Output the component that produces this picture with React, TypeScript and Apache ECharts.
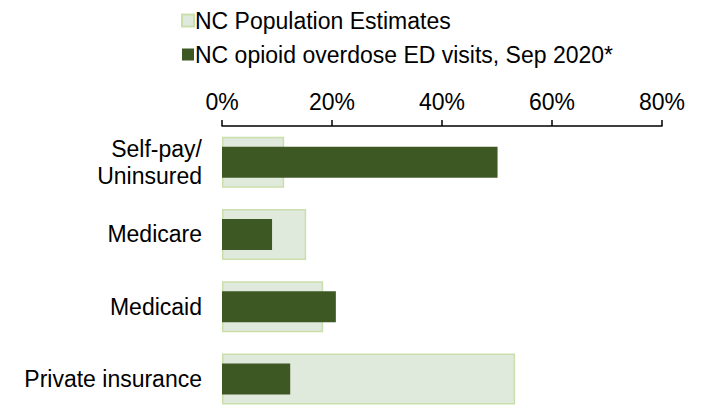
import React, { useEffect, useRef } from "react";
import * as echarts from "echarts";

const categories = ["Self-pay/\nUninsured", "Medicare", "Medicaid", "Private insurance"];
const populationEstimates = [11.3, 15.3, 18.4, 53.3];
const edVisits = [50.1, 9.1, 20.7, 12.4];
const seriesNames = ["NC Population Estimates", "NC opioid overdose ED visits, Sep 2020*"];
const FONT = "'Liberation Sans', Arial, sans-serif";

export default function App() {
  const ref = useRef<HTMLDivElement>(null);
  useEffect(() => {
    if (!ref.current) return;
    const chart = echarts.init(ref.current, undefined, { renderer: "svg" });
    chart.setOption({
      animation: false,
      backgroundColor: "#ffffff",
      textStyle: { fontFamily: FONT },
      legend: {
        orient: "vertical",
        left: 181,
        top: 9,
        padding: 0,
        icon: "rect",
        itemWidth: 12,
        itemHeight: 12,
        itemGap: 11,
        textStyle: { fontSize: 23, color: "#000", fontFamily: FONT, padding: [0, 0, 0, -4], lineHeight: 23 },
        data: seriesNames,
      },
      grid: { left: 222, width: 440, top: 126, height: 304 },
      xAxis: {
        type: "value",
        position: "top",
        min: 0,
        max: 80,
        interval: 20,
        axisLine: { show: true, lineStyle: { color: "#000", width: 1.5 } },
        axisTick: { show: true, length: 6, lineStyle: { color: "#000", width: 1.5 } },
        axisLabel: { formatter: "{value}%", fontSize: 23, color: "#000", margin: 13, fontFamily: FONT },
        splitLine: { show: false },
      },
      yAxis: [
        {
          type: "category",
          inverse: true,
          data: categories,
          axisLine: { show: false },
          axisTick: { show: false },
          axisLabel: { fontSize: 23, color: "#000", margin: 20, lineHeight: 27, align: "right", fontFamily: FONT },
        },
        {
          type: "category",
          inverse: true,
          data: categories,
          show: false,
        },
      ],
      series: [
        {
          name: seriesNames[0],
          type: "bar",
          yAxisIndex: 0,
          barWidth: 51,
          data: populationEstimates,
          itemStyle: { color: "#dfe9dc", borderColor: "#cbdfac", borderWidth: 1.5 },
        },
        {
          name: seriesNames[1],
          type: "bar",
          yAxisIndex: 1,
          barWidth: 31,
          data: edVisits,
          itemStyle: { color: "#3e5824" },
        },
      ],
    });
    return () => chart.dispose();
  }, []);
  return (
    <div
      ref={ref}
      style={{ position: "fixed", left: 0, top: 0, width: 706, height: 415 }}
    />
  );
}
